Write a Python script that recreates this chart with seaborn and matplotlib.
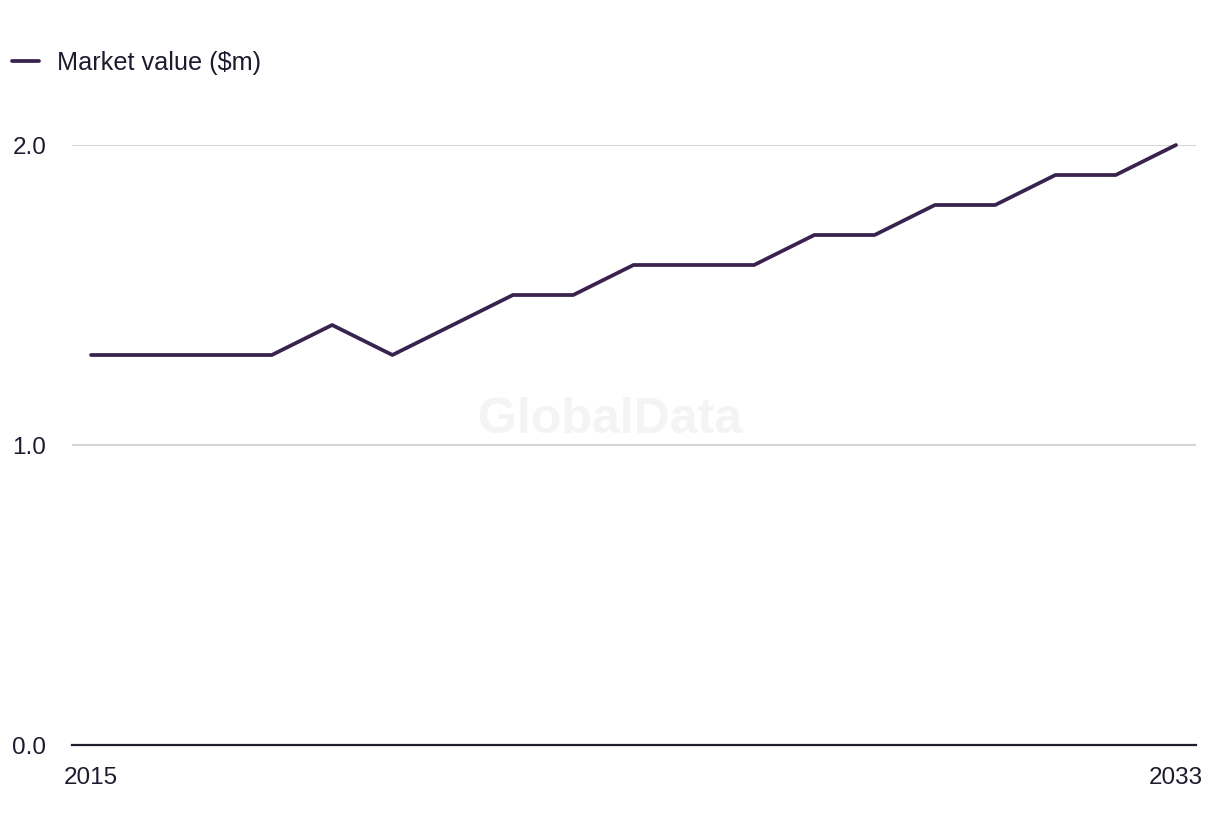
import matplotlib
matplotlib.use("Agg")
import matplotlib.pyplot as plt
import seaborn as sns
import pandas as pd

years = list(range(2015, 2034))
market_value = [1.3, 1.3, 1.3, 1.3, 1.4, 1.3, 1.4, 1.5, 1.5, 1.6,
                1.6, 1.6, 1.7, 1.7, 1.8, 1.8, 1.9, 1.9, 2.0]
series_name = "Market value ($m)"
y_ticks = [0.0, 1.0, 2.0]
x_ticks = [2015, 2033]

sns.set_theme(style="white")
plt.rcParams['font.family'] = ['Liberation Sans', 'DejaVu Sans']

text_color = "#1c1c2e"
line_color = "#38234f"

df = pd.DataFrame({"year": years, "value": market_value})

fig = plt.figure(figsize=(12.2, 8.36), dpi=100)
ax = fig.add_axes([72/1220, 1-745/836, (1196-72)/1220, (745-145)/836])

for y in y_ticks[1:]:
    ax.axhline(y, color="#d6d6d6", lw=1.5, zorder=0)

sns.lineplot(data=df, x="year", y="value", ax=ax, color=line_color,
             lw=2.7, label=series_name, clip_on=False, zorder=3)

ax.set_xlim(2015 - 19/60.28, 2033 + 20/60.28)
ax.set_ylim(0, 2.0)
ax.set_xticks(x_ticks)
ax.set_xticklabels([str(x) for x in x_ticks])
ax.set_yticks(y_ticks)
ax.set_yticklabels([f"{y:.1f}" for y in y_ticks])
ax.set_xlabel("")
ax.set_ylabel("")
for s in ["top", "right", "left"]:
    ax.spines[s].set_visible(False)
ax.spines["bottom"].set_color("#1d1d2b")
ax.spines["bottom"].set_linewidth(1.6)
ax.tick_params(axis="y", length=0, pad=18.5, labelsize=17.5, labelcolor=text_color)
ax.tick_params(axis="x", length=0, pad=16, labelsize=17.5, labelcolor=text_color)

ax.legend_.remove()
fig.legend(handles=ax.get_lines()[-1:], labels=[series_name],
           loc="center left", bbox_to_anchor=(12/1220, 1-63/836),
           frameon=False, borderpad=0, borderaxespad=0,
           handlelength=1.05, handletextpad=0.72,
           fontsize=18.2, labelcolor=text_color)

fig.text(610/1220, 1-420/836, "GlobalData", ha="center", va="center",
         fontsize=36, fontweight="bold", color="#f4f4f4", zorder=0)

fig.savefig("out.png", dpi=100)
